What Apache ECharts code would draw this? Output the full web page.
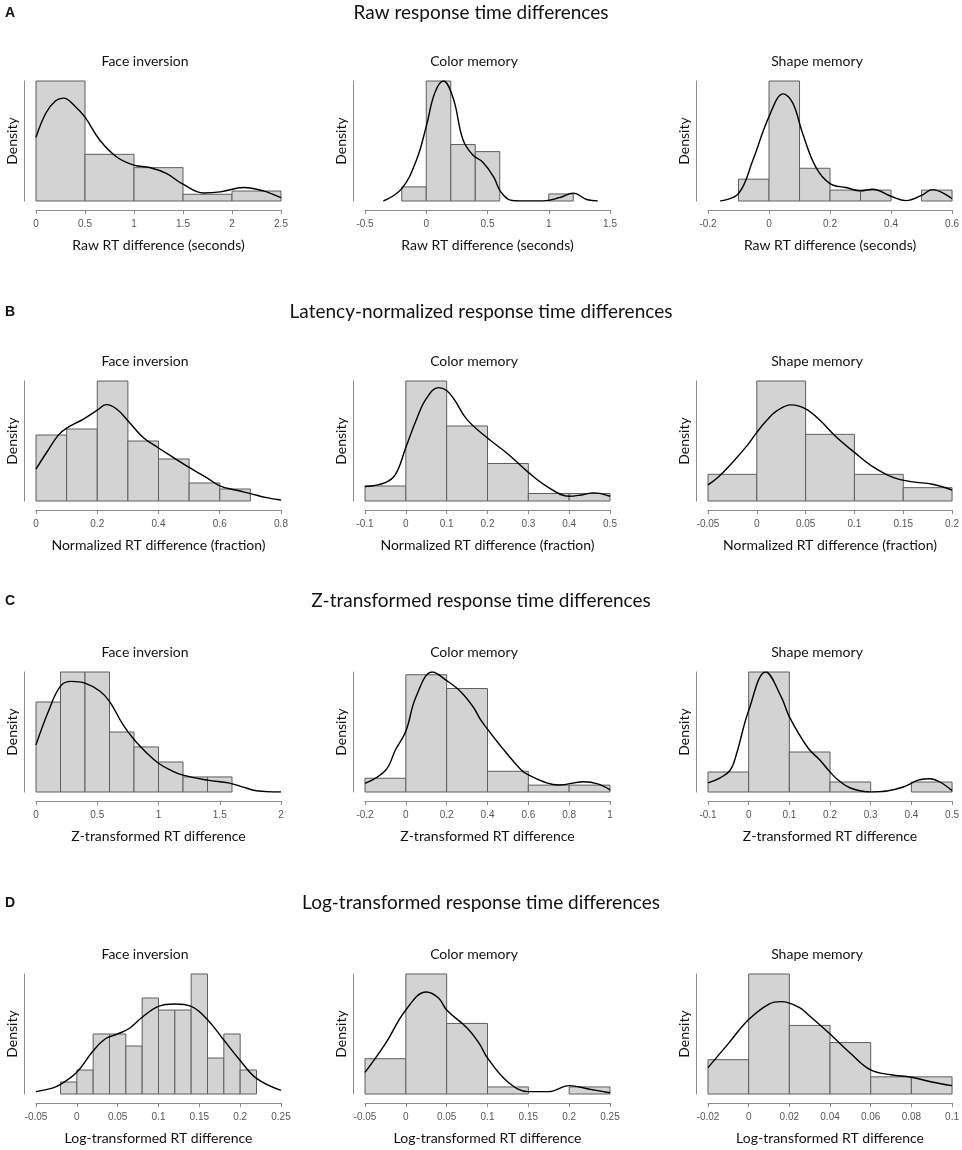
<!DOCTYPE html>
<html>
<head>
<meta charset="utf-8">
<title>Response time differences</title>
<script src="https://cdn.jsdelivr.net/npm/echarts@6.0.0/dist/echarts.min.js"></script>
<style>
  html, body { margin: 0; padding: 0; background: #fff; }
  #chart { width: 962px; height: 1150px; }
</style>
</head>
<body>
<div id="chart"></div>
<script>
// ---- text ----
var rowLetters = ['A', 'B', 'C', 'D'];
var rowTitles = [
    'Raw response time differences',
    'Latency-normalized response time differences',
    'Z-transformed response time differences',
    'Log-transformed response time differences'
];
var panelTitles = ['Face inversion', 'Color memory', 'Shape memory'];
var xNames = [
    'Raw RT difference (seconds)',
    'Normalized RT difference (fraction)',
    'Z-transformed RT difference',
    'Log-transformed RT difference'
];

// ---- A: raw ----
var rawFaceTicks = [0, 0.5, 1, 1.5, 2, 2.5];
var rawFaceEdges = [0, 0.5, 1, 1.5, 2, 2.5];
var rawFaceDens = [1.108, 0.431, 0.308, 0.062, 0.092];
var rawFaceKdeX = [0, 0.1, 0.2, 0.28, 0.4, 0.5, 0.65, 0.82, 1.0, 1.16, 1.33, 1.5, 1.71, 1.88, 2.12, 2.32, 2.5];
var rawFaceKdeY = [0.588, 0.81, 0.925, 0.95, 0.873, 0.774, 0.563, 0.409, 0.331, 0.309, 0.254, 0.155, 0.074, 0.084, 0.124, 0.093, 0.031];

var rawColorTicks = [-0.5, 0, 0.5, 1, 1.5];
var rawColorEdges = [-0.2, 0, 0.2, 0.4, 0.6, 0.8, 1.0, 1.2];
var rawColorDens = [0.286, 2.43, 1.143, 1.0, 0, 0, 0.143];
var rawColorKdeX = [-0.35, -0.2, -0.08, 0, 0.07, 0.14, 0.22, 0.3, 0.38, 0.46, 0.55, 0.61, 0.7, 0.8, 0.95, 1.09, 1.2, 1.31, 1.4];
var rawColorKdeY = [0, 0.25, 0.83, 1.51, 2.19, 2.43, 2.08, 1.24, 0.93, 0.79, 0.49, 0.18, 0.01, 0, 0, 0.07, 0.16, 0.03, 0];

var rawShapeTicks = [-0.2, 0, 0.2, 0.4, 0.6];
var rawShapeEdges = [-0.1, 0, 0.1, 0.2, 0.3, 0.4, 0.5, 0.6];
var rawShapeDens = [1.053, 5.789, 1.579, 0.526, 0.526, 0, 0.526];
var rawShapeKdeX = [-0.16, -0.1, -0.053, 0, 0.047, 0.078, 0.11, 0.153, 0.2, 0.252, 0.3, 0.34, 0.4, 0.449, 0.5, 0.535, 0.6];
var rawShapeKdeY = [0, 0.36, 1.97, 4.07, 5.17, 4.72, 3.27, 1.65, 0.84, 0.65, 0.49, 0.57, 0.23, 0.02, 0.27, 0.55, 0.11];

// ---- B: latency-normalized ----
var normFaceTicks = [0, 0.2, 0.4, 0.6, 0.8];
var normFaceEdges = [0, 0.1, 0.2, 0.3, 0.4, 0.5, 0.6, 0.7];
var normFaceDens = [1.692, 1.846, 3.077, 1.538, 1.077, 0.462, 0.308];
var normFaceKdeX = [0, 0.035, 0.073, 0.1, 0.155, 0.2, 0.229, 0.263, 0.3, 0.35, 0.4, 0.448, 0.5, 0.557, 0.6, 0.655, 0.7, 0.753, 0.8];
var normFaceKdeY = [0.82, 1.25, 1.69, 1.87, 2.1, 2.33, 2.47, 2.36, 2.06, 1.63, 1.36, 1.12, 0.86, 0.60, 0.39, 0.275, 0.19, 0.086, 0.026];

var normColorTicks = [-0.1, 0, 0.1, 0.2, 0.3, 0.4, 0.5];
var normColorEdges = [-0.1, 0, 0.1, 0.2, 0.3, 0.4, 0.5];
var normColorDens = [0.571, 4.571, 2.857, 1.429, 0.286, 0.286];
var normColorKdeX = [-0.1, -0.05, -0.025, 0, 0.025, 0.05, 0.08, 0.1, 0.12, 0.15, 0.2, 0.25, 0.3, 0.35, 0.4, 0.43, 0.46, 0.5];
var normColorKdeY = [0.55, 0.70, 1.02, 2.04, 3.07, 3.9, 4.32, 4.21, 3.83, 3.1, 2.4, 1.79, 1.09, 0.51, 0.18, 0.23, 0.31, 0.18];

var normShapeTicks = [-0.05, 0, 0.05, 0.1, 0.15, 0.2];
var normShapeEdges = [-0.05, 0, 0.05, 0.1, 0.15, 0.2];
var normShapeDens = [2.105, 9.474, 5.263, 2.105, 1.053];
var normShapeKdeX = [-0.05, -0.04, -0.025, -0.01, 0, 0.01, 0.02, 0.035, 0.05, 0.065, 0.08, 0.1, 0.12, 0.14, 0.16, 0.18, 0.2];
var normShapeKdeY = [1.27, 1.85, 3.04, 4.37, 5.42, 6.35, 7.09, 7.59, 7.28, 6.35, 5.16, 3.84, 2.65, 1.85, 1.51, 1.32, 0.87];

// ---- C: z-transformed ----
var zFaceTicks = [0, 0.5, 1, 1.5, 2];
var zFaceEdges = [0, 0.2, 0.4, 0.6, 0.8, 1.0, 1.2, 1.4, 1.6];
var zFaceDens = [0.909, 1.212, 1.212, 0.606, 0.455, 0.303, 0.152, 0.152];
var zFaceKdeX = [0, 0.1, 0.2, 0.29, 0.4, 0.52, 0.6, 0.71, 0.8, 0.9, 1.0, 1.1, 1.2, 1.4, 1.58, 1.69, 1.8, 2.0];
var zFaceKdeY = [0.476, 0.81, 1.07, 1.117, 1.10, 1.02, 0.915, 0.68, 0.53, 0.40, 0.29, 0.22, 0.17, 0.12, 0.09, 0.05, 0.013, 0];

var zColorTicks = [-0.2, 0, 0.2, 0.4, 0.6, 0.8, 1];
var zColorEdges = [-0.2, 0, 0.2, 0.4, 0.6, 0.8, 1.0];
var zColorDens = [0.256, 2.179, 1.923, 0.385, 0.128, 0.128];
var zColorKdeX = [-0.2, -0.1, -0.05, 0, 0.05, 0.13, 0.2, 0.27, 0.33, 0.37, 0.47, 0.565, 0.6, 0.69, 0.75, 0.87, 0.94, 1.0];
var zColorKdeY = [0.16, 0.40, 0.79, 1.13, 1.77, 2.23, 2.07, 1.86, 1.58, 1.32, 0.83, 0.41, 0.32, 0.17, 0.13, 0.19, 0.15, 0.04];

var zShapeTicks = [-0.1, 0, 0.1, 0.2, 0.3, 0.4, 0.5];
var zShapeEdges = [-0.1, 0, 0.1, 0.2, 0.3, 0.4, 0.5];
var zShapeDens = [1, 6, 2, 0.5, 0, 0.5];
var zShapeKdeX = [-0.1, -0.07, -0.045, -0.03, 0, 0.042, 0.08, 0.1, 0.146, 0.175, 0.2, 0.22, 0.25, 0.3, 0.34, 0.38, 0.42, 0.446, 0.47, 0.5];
var zShapeKdeY = [0.46, 0.71, 1.1, 1.9, 4.07, 6.0, 4.76, 3.76, 2.2, 1.6, 1.0, 0.6, 0.2, 0.0, 0.05, 0.25, 0.61, 0.66, 0.5, 0.07];

// ---- D: log-transformed ----
var logFaceTicks = [-0.05, 0, 0.05, 0.1, 0.15, 0.2, 0.25];
var logFaceEdges = [-0.02, 0, 0.02, 0.04, 0.06, 0.08, 0.1, 0.12, 0.14, 0.16, 0.18, 0.2, 0.22];
var logFaceDens = [0.847, 1.695, 4.237, 4.237, 3.39, 6.78, 5.93, 5.93, 8.475, 2.54, 4.237, 1.695];
var logFaceKdeX = [-0.05, -0.03, -0.02, 0, 0.02, 0.035, 0.05, 0.065, 0.08, 0.1, 0.12, 0.14, 0.16, 0.18, 0.2, 0.22, 0.25];
var logFaceKdeY = [0.17, 0.42, 0.68, 1.53, 3.05, 3.9, 4.24, 4.66, 5.42, 6.19, 6.36, 6.19, 5.25, 3.81, 2.37, 1.10, 0.25];

var logColorTicks = [-0.05, 0, 0.05, 0.1, 0.15, 0.2, 0.25];
var logColorEdges = [-0.05, 0, 0.05, 0.1, 0.15, 0.2, 0.25];
var logColorDens = [2.941, 10, 5.882, 0.588, 0, 0.588];
var logColorKdeX = [-0.05, -0.025, 0, 0.025, 0.04, 0.05, 0.075, 0.09, 0.1, 0.125, 0.15, 0.175, 0.2, 0.225, 0.25];
var logColorKdeY = [1.8, 4.2, 7.0, 8.5, 8.0, 7.0, 5.5, 4.2, 3.0, 1.0, 0.2, 0.2, 0.7, 0.4, 0.1];

var logShapeTicks = [-0.02, 0, 0.02, 0.04, 0.06, 0.08, 0.1];
var logShapeEdges = [-0.02, 0, 0.02, 0.04, 0.06, 0.08, 0.1];
var logShapeDens = [5.556, 19.444, 11.111, 8.333, 2.778, 2.778];
var logShapeKdeX = [-0.02, -0.01, 0, 0.01, 0.016, 0.025, 0.03, 0.04, 0.05, 0.06, 0.07, 0.08, 0.09, 0.1];
var logShapeKdeY = [4.28, 8.17, 12.06, 14.58, 14.97, 14.0, 12.64, 9.72, 6.61, 3.89, 3.11, 2.72, 1.94, 1.36];

var panels = [
    [rawFaceTicks, rawFaceEdges, rawFaceDens, rawFaceKdeX, rawFaceKdeY],
    [rawColorTicks, rawColorEdges, rawColorDens, rawColorKdeX, rawColorKdeY],
    [rawShapeTicks, rawShapeEdges, rawShapeDens, rawShapeKdeX, rawShapeKdeY],
    [normFaceTicks, normFaceEdges, normFaceDens, normFaceKdeX, normFaceKdeY],
    [normColorTicks, normColorEdges, normColorDens, normColorKdeX, normColorKdeY],
    [normShapeTicks, normShapeEdges, normShapeDens, normShapeKdeX, normShapeKdeY],
    [zFaceTicks, zFaceEdges, zFaceDens, zFaceKdeX, zFaceKdeY],
    [zColorTicks, zColorEdges, zColorDens, zColorKdeX, zColorKdeY],
    [zShapeTicks, zShapeEdges, zShapeDens, zShapeKdeX, zShapeKdeY],
    [logFaceTicks, logFaceEdges, logFaceDens, logFaceKdeX, logFaceKdeY],
    [logColorTicks, logColorEdges, logColorDens, logColorKdeX, logColorKdeY],
    [logShapeTicks, logShapeEdges, logShapeDens, logShapeKdeX, logShapeKdeY]
];

// layout (px)
var colLeft = [36, 365, 708];
var rowTop = [81, 381, 672, 974];
var rowTitleY = [13, 312, 601, 903];
var plotW = 245, plotH = 120;

var textFont = 'Lato, "Open Sans", sans-serif';
var axisGray = '#8a8a8a';

var grids = [], xAxes = [], yAxes = [], series = [], graphics = [];

for (var r = 0; r < 4; r++) {
    graphics.push({ type: 'text', x: 10, y: rowTitleY[r],
        style: { text: rowLetters[r], font: 'bold 14px "Liberation Sans", Arial, sans-serif', fill: '#111',
                 textAlign: 'center', textVerticalAlign: 'middle' } });
    graphics.push({ type: 'text', x: 481, y: rowTitleY[r],
        style: { text: rowTitles[r], font: '19px ' + textFont, fill: '#111',
                 textAlign: 'center', textVerticalAlign: 'middle' } });

    for (var c = 0; c < 3; c++) {
        var i = r * 3 + c;
        var p = panels[i];
        var ticks = p[0], edges = p[1], dens = p[2], kx = p[3], ky = p[4];
        var ymax = Math.max(Math.max.apply(null, dens), Math.max.apply(null, ky));

        graphics.push({ type: 'text', x: colLeft[c] + 109, y: rowTop[r] - 20,
            style: { text: panelTitles[c], font: '14px ' + textFont, fill: '#111',
                     textAlign: 'center', textVerticalAlign: 'middle' } });

        grids.push({ left: colLeft[c], top: rowTop[r], width: plotW, height: plotH });

        xAxes.push({
            type: 'value', gridIndex: i,
            min: ticks[0], max: ticks[ticks.length - 1],
            interval: ticks[1] - ticks[0],
            offset: 9,
            axisLine: { onZero: false, lineStyle: { color: axisGray, width: 1 } },
            axisTick: { length: 4, lineStyle: { color: axisGray } },
            axisLabel: { fontSize: 10, color: '#555', margin: 9,
                         fontFamily: '"Liberation Sans", Arial, sans-serif',
                         showMinLabel: true, showMaxLabel: true },
            splitLine: { show: false },
            name: xNames[r], nameLocation: 'middle', nameGap: 28,
            nameTextStyle: { fontSize: 14, color: '#111', fontFamily: textFont }
        });

        yAxes.push({
            type: 'value', gridIndex: i, min: 0, max: ymax,
            offset: 12,
            axisLine: { show: true, onZero: false, lineStyle: { color: axisGray, width: 1 } },
            axisTick: { show: false },
            axisLabel: { show: false },
            splitLine: { show: false },
            name: 'Density', nameLocation: 'middle', nameGap: 5,
            nameTextStyle: { fontSize: 14, color: '#111', fontFamily: textFont }
        });

        var bins = [];
        for (var k = 0; k < dens.length; k++) {
            bins.push([edges[k], edges[k + 1], dens[k]]);
        }
        series.push({
            type: 'custom', xAxisIndex: i, yAxisIndex: i,
            data: bins,
            encode: { x: [0, 1], y: 2 },
            renderItem: function (params, api) {
                if (api.value(2) <= 0) return null;
                var p0 = api.coord([api.value(0), 0]);
                var p1 = api.coord([api.value(1), api.value(2)]);
                return {
                    type: 'rect',
                    shape: { x: p0[0], y: p1[1], width: p1[0] - p0[0], height: p0[1] - p1[1] },
                    style: { fill: '#d3d3d3', stroke: '#5e5e5e', lineWidth: 1 }
                };
            },
            silent: true, z: 2
        });

        var curve = [];
        for (var j = 0; j < kx.length; j++) curve.push([kx[j], ky[j]]);
        series.push({
            type: 'line', xAxisIndex: i, yAxisIndex: i,
            data: curve, smooth: 0.4, symbol: 'none',
            lineStyle: { color: '#000', width: 1.4 },
            silent: true, z: 3
        });
    }
}

var myChart = echarts.init(document.getElementById('chart'));
myChart.setOption({
    backgroundColor: '#fff',
    animation: false,
    grid: grids,
    xAxis: xAxes,
    yAxis: yAxes,
    series: series,
    graphic: graphics
});
</script>
</body>
</html>
